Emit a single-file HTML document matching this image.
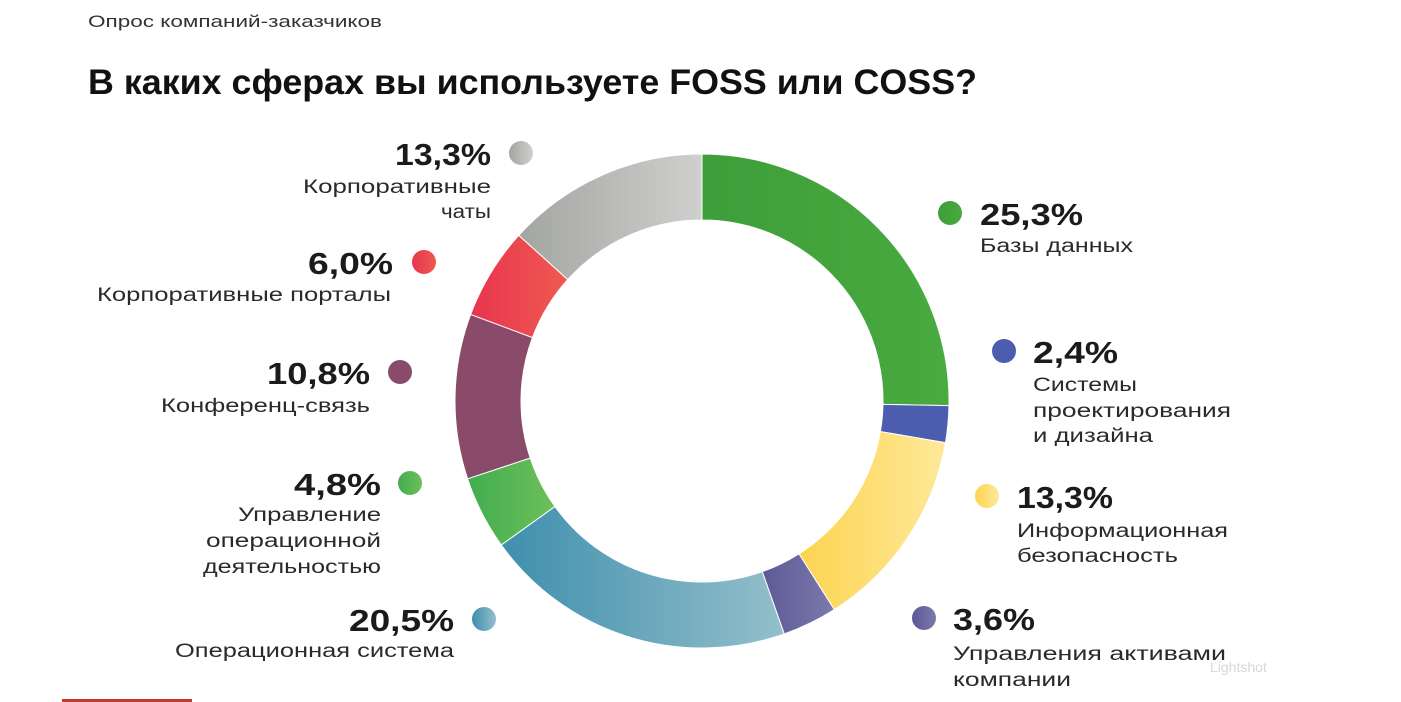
<!DOCTYPE html>
<html><head><meta charset="utf-8"><style>
html,body{margin:0;padding:0;background:#fff;}
svg{display:block;font-family:"Liberation Sans",sans-serif;}
.p{font-weight:bold;font-size:31px;fill:#1b1b1b;}
.l{font-size:19px;fill:#2a2a2a;}
</style></head><body>
<svg id="s" width="1401" height="702" viewBox="0 0 1401 702" xmlns="http://www.w3.org/2000/svg">
<defs>
<linearGradient id="gGrey" x1="0" x2="1"><stop offset="0" stop-color="#a3a5a3"/><stop offset="1" stop-color="#cfd0ce"/></linearGradient>
<linearGradient id="gRed" x1="0" x2="1"><stop offset="0" stop-color="#e8344f"/><stop offset="1" stop-color="#ef5a50"/></linearGradient>
<linearGradient id="gTeal" x1="0" x2="1"><stop offset="0" stop-color="#3f8fad"/><stop offset="1" stop-color="#94bfcb"/></linearGradient>
<linearGradient id="gYel" x1="0" x2="1"><stop offset="0" stop-color="#fdd450"/><stop offset="1" stop-color="#fee99a"/></linearGradient>
<linearGradient id="gGrn" x1="0" x2="1"><stop offset="0" stop-color="#3e9e3a"/><stop offset="1" stop-color="#48aa3f"/></linearGradient>
<linearGradient id="gLg" x1="0" x2="1"><stop offset="0" stop-color="#42ad4f"/><stop offset="1" stop-color="#6cc05a"/></linearGradient>
<linearGradient id="gPur" x1="0" x2="1"><stop offset="0" stop-color="#5d5996"/><stop offset="1" stop-color="#7b79ad"/></linearGradient>
</defs>
<text x="88" y="27" font-size="17" fill="#333" textLength="294" lengthAdjust="spacingAndGlyphs">Опрос компаний-заказчиков</text>
<text x="88" y="94" font-size="35" font-weight="bold" fill="#111" textLength="889" lengthAdjust="spacingAndGlyphs">В каких сферах вы используете FOSS или COSS?</text>
<g id="donut"></g>

<!-- left -->
<circle cx="521" cy="153" r="12" fill="url(#gGrey)"/>
<text class="p" x="395" y="165" textLength="96" lengthAdjust="spacingAndGlyphs">13,3%</text>
<text class="l" x="303" y="193" textLength="188" lengthAdjust="spacingAndGlyphs">Корпоративные</text>
<text class="l" x="441" y="218" textLength="50" lengthAdjust="spacingAndGlyphs">чаты</text>

<circle cx="424" cy="262" r="12" fill="url(#gRed)"/>
<text class="p" x="308" y="274" textLength="85" lengthAdjust="spacingAndGlyphs">6,0%</text>
<text class="l" x="97" y="301" textLength="294" lengthAdjust="spacingAndGlyphs">Корпоративные порталы</text>

<circle cx="400" cy="372" r="12" fill="#8a4a6a"/>
<text class="p" x="267" y="384" textLength="103" lengthAdjust="spacingAndGlyphs">10,8%</text>
<text class="l" x="161" y="412" textLength="209" lengthAdjust="spacingAndGlyphs">Конференц-связь</text>

<circle cx="410" cy="483" r="12" fill="url(#gLg)"/>
<text class="p" x="294" y="495" textLength="87" lengthAdjust="spacingAndGlyphs">4,8%</text>
<text class="l" x="238" y="521" textLength="143" lengthAdjust="spacingAndGlyphs">Управление</text>
<text class="l" x="206" y="547" textLength="175" lengthAdjust="spacingAndGlyphs">операционной</text>
<text class="l" x="203" y="573" textLength="178" lengthAdjust="spacingAndGlyphs">деятельностью</text>

<circle cx="484" cy="619" r="12" fill="url(#gTeal)"/>
<text class="p" x="349" y="631" textLength="105" lengthAdjust="spacingAndGlyphs">20,5%</text>
<text class="l" x="175" y="657" textLength="279" lengthAdjust="spacingAndGlyphs">Операционная система</text>

<!-- right -->
<circle cx="950" cy="213" r="12" fill="url(#gGrn)"/>
<text class="p" x="980" y="225" textLength="103" lengthAdjust="spacingAndGlyphs">25,3%</text>
<text class="l" x="980" y="252" textLength="153" lengthAdjust="spacingAndGlyphs">Базы данных</text>

<circle cx="1004" cy="351" r="12" fill="#4c5caf"/>
<text class="p" x="1033" y="363" textLength="85" lengthAdjust="spacingAndGlyphs">2,4%</text>
<text class="l" x="1033" y="391" textLength="104" lengthAdjust="spacingAndGlyphs">Системы</text>
<text class="l" x="1033" y="417" textLength="198" lengthAdjust="spacingAndGlyphs">проектирования</text>
<text class="l" x="1033" y="442" textLength="120" lengthAdjust="spacingAndGlyphs">и дизайна</text>

<circle cx="987" cy="496" r="12" fill="url(#gYel)"/>
<text class="p" x="1017" y="508" textLength="96" lengthAdjust="spacingAndGlyphs">13,3%</text>
<text class="l" x="1017" y="537" textLength="211" lengthAdjust="spacingAndGlyphs">Информационная</text>
<text class="l" x="1017" y="562" textLength="161" lengthAdjust="spacingAndGlyphs">безопасность</text>

<circle cx="924" cy="618" r="12" fill="url(#gPur)"/>
<text class="p" x="953" y="630" textLength="82" lengthAdjust="spacingAndGlyphs">3,6%</text>
<text class="l" x="953" y="660" textLength="273" lengthAdjust="spacingAndGlyphs">Управления активами</text>
<text class="l" x="953" y="686" textLength="118" lengthAdjust="spacingAndGlyphs">компании</text>

<text x="1210" y="672" font-size="14" fill="#d8d8d8">Lightshot</text>
<rect x="62" y="699" width="130" height="3" fill="#c0392b"/>
</svg>
<script>
(function(){
var cx=702,cy=401,R=247,r=181;
var segs=[[25.3,"url(#gGrn)"],[2.4,"#4c5caf"],[13.3,"url(#gYel)"],[3.6,"url(#gPur)"],[20.5,"url(#gTeal)"],[4.8,"url(#gLg)"],[10.8,"#8a4a6a"],[6.0,"url(#gRed)"],[13.3,"url(#gGrey)"]];
var tot=0;segs.forEach(function(s){tot+=s[0];});
var a=0,g=document.getElementById("donut"),ns="http://www.w3.org/2000/svg";
function pt(rad,ang){var t=ang/tot*2*Math.PI-Math.PI/2;return [cx+rad*Math.cos(t),cy+rad*Math.sin(t)];}
segs.forEach(function(s){
var b=a+s[0],lg=(s[0]/tot>0.5)?1:0;
var p1=pt(R,a),p2=pt(R,b),p3=pt(r,b),p4=pt(r,a);
var d="M"+p1+"A"+R+","+R+" 0 "+lg+" 1 "+p2+"L"+p3+"A"+r+","+r+" 0 "+lg+" 0 "+p4+"Z";
var e=document.createElementNS(ns,"path");e.setAttribute("d",d);e.setAttribute("fill",s[1]);
e.setAttribute("stroke","#fff");e.setAttribute("stroke-width","1");g.appendChild(e);a=b;});
})();
</script>
</body></html>
